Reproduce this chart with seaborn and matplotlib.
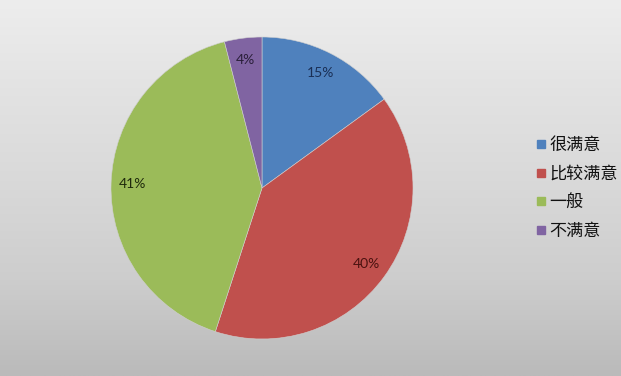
import numpy as np
import matplotlib
matplotlib.use("Agg")
import matplotlib.pyplot as plt
from matplotlib.lines import Line2D
import seaborn as sns

categories = ["很满意", "比较满意", "一般", "不满意"]
values = [15, 40, 41, 4]
pct_labels = ["15%", "40%", "41%", "4%"]

sns.set_theme(style="white")
plt.rcParams['font.family'] = ['Noto Sans CJK SC', 'DejaVu Sans']

colors = sns.color_palette(["#4F81BD", "#C0504D", "#9BBB59", "#8064A2"])
label_colors = ["#1a2f55", "#4a1210", "#1f2a0c", "#2a1f3a"]

fig = plt.figure(figsize=(6.21, 3.76), dpi=100)

# background gradient
bg = fig.add_axes([0, 0, 1, 1], zorder=0)
ys = np.array([0, 96, 190, 280, 376]) / 376.0
vs = np.array([237, 226, 216, 205, 186]) / 255.0
yy = np.linspace(0, 1, 376)
col = np.interp(yy, ys, vs)
grad = np.repeat(col[:, None], 2, axis=1)
img = np.dstack([grad, grad, grad])
bg.imshow(img, aspect='auto', extent=[0, 1, 1, 0], interpolation='bilinear')
bg.set_xlim(0, 1); bg.set_ylim(1, 0)
bg.axis('off')

W, H = 621, 376
cx, cy, r = 262, 188, 151
ax = fig.add_axes([(cx - r) / W, (H - cy - r) / H, 2 * r / W, 2 * r / H], zorder=1)
ax.patch.set_alpha(0)
wedges, texts = ax.pie(values, colors=colors, startangle=90, counterclock=False,
                       labels=pct_labels, labeldistance=0.855,
                       wedgeprops=dict(edgecolor="#d0d0d0", linewidth=0.4),
                       textprops=dict(fontsize=10, family=['Lato', 'DejaVu Sans']))
for t, c in zip(texts, label_colors):
    t.set_color(c)
    t.set_horizontalalignment('center')
ax.set_xlim(-1, 1); ax.set_ylim(-1, 1)
ax.set_aspect('equal')
ax.axis('off')

handles = [Line2D([0], [0], marker='s', linestyle='none', markersize=6,
                  markerfacecolor=c, markeredgecolor=c) for c in colors]
fig.legend(handles, categories, loc='center left', bbox_to_anchor=(535 / W, 1 - 188 / H),
           frameon=False, fontsize=12.3, handlelength=0.65, handletextpad=0.2,
           labelspacing=0.62, borderpad=0, borderaxespad=0, labelcolor='#111111')

fig.savefig("out.png", dpi=100)
